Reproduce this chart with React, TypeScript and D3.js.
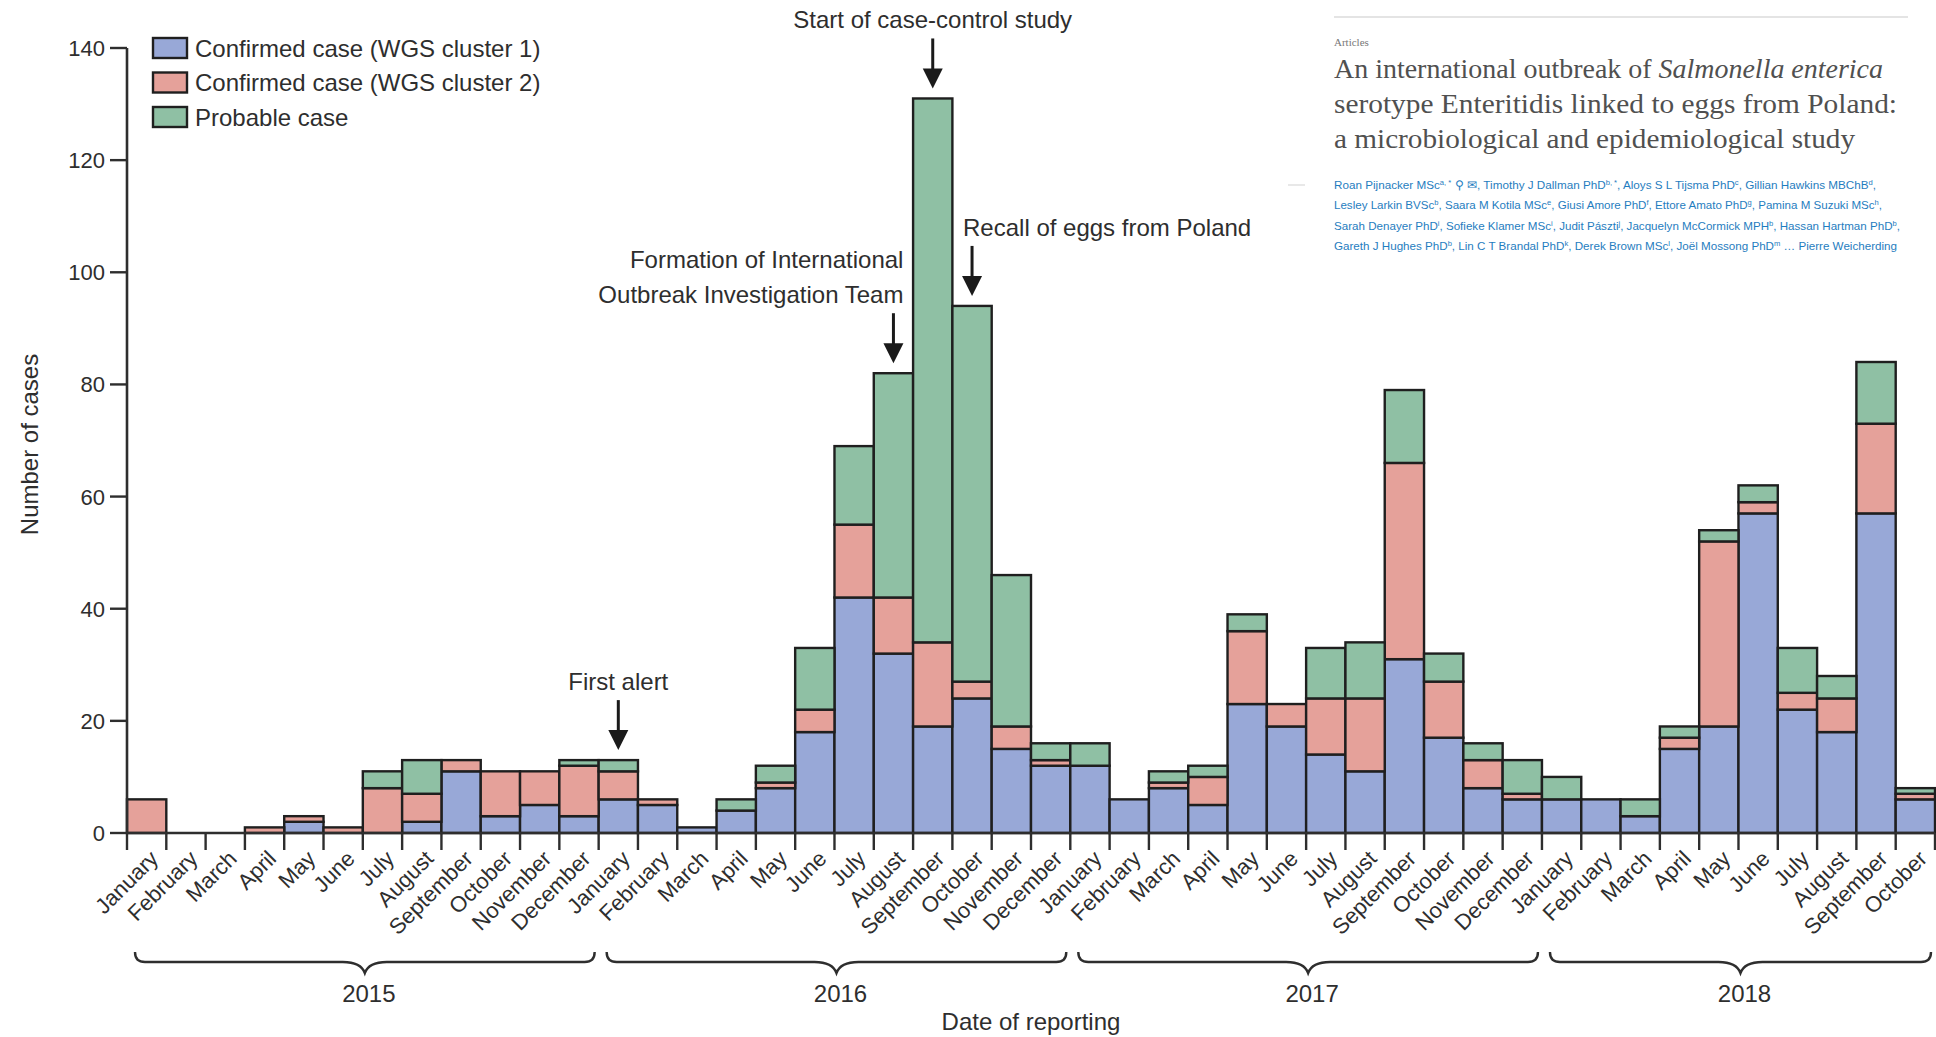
import * as d3 from 'd3';

// Reporting months, January 2015 – October 2018
const MONTHS = [
  'January', 'February', 'March', 'April', 'May', 'June',
  'July', 'August', 'September', 'October', 'November', 'December',
];
const YEARS = ['2015', '2016', '2017', '2018'];
const PERIODS = YEARS.flatMap((yr) => MONTHS.map((m) => `${m} ${yr}`)).slice(0, 46);

// Cases per month
const CLUSTER1 = [
  0, 0, 0, 0, 2, 0, 0, 2, 11, 3, 5, 3,
  6, 5, 1, 4, 8, 18, 42, 32, 19, 24, 15, 12,
  12, 6, 8, 5, 23, 19, 14, 11, 31, 17, 8, 6,
  6, 6, 3, 15, 19, 57, 22, 18, 57, 6,
];
const CLUSTER2 = [
  6, 0, 0, 1, 1, 1, 8, 5, 2, 8, 6, 9,
  5, 1, 0, 0, 1, 4, 13, 10, 15, 3, 4, 1,
  0, 0, 1, 5, 13, 4, 10, 13, 35, 10, 5, 1,
  0, 0, 0, 2, 33, 2, 3, 6, 16, 1,
];
const PROBABLE = [
  0, 0, 0, 0, 0, 0, 3, 6, 0, 0, 0, 1,
  2, 0, 0, 2, 3, 11, 14, 40, 97, 67, 27, 3,
  4, 0, 2, 2, 3, 0, 9, 10, 13, 5, 3, 6,
  4, 0, 3, 2, 2, 3, 8, 4, 11, 1,
];

const SERIES_KEYS = ['c1', 'c2', 'pr'];
const SERIES_LABELS = [
  'Confirmed case (WGS cluster 1)',
  'Confirmed case (WGS cluster 2)',
  'Probable case',
];
const SERIES_COLOURS = ['#98a8d7', '#e5a19a', '#8fc0a4'];

const Y_TICKS = [0, 20, 40, 60, 80, 100, 120, 140];

const ANNOTATIONS = [
  { period: 'January 2016', lines: ['First alert'], align: 'middle' },
  { period: 'August 2016', lines: ['Formation of International', 'Outbreak Investigation Team'], align: 'end' },
  { period: 'September 2016', lines: ['Start of case-control study'], align: 'middle' },
  { period: 'October 2016', lines: ['Recall of eggs from Poland'], align: 'start' },
];

const W = 1936;
const H = 1037;
const INK = '#2e2e2e';
const SANS = "'Liberation Sans', Arial, sans-serif";
const SERIF = "'Liberation Serif', 'Times New Roman', serif";
const LINK = '#1f7dc0';

const rows = PERIODS.map((p, i) => ({ period: p, c1: CLUSTER1[i], c2: CLUSTER2[i], pr: PROBABLE[i] }));

function Brace({ x1, x2, y }: { x1: number; x2: number; y: number }) {
  const mid = (x1 + x2) / 2;
  const d = `M${x1},${y - 10} Q${x1},${y} ${x1 + 10},${y} L${mid - 22},${y}
    Q${mid - 4},${y} ${mid},${y + 11} Q${mid + 4},${y} ${mid + 22},${y}
    L${x2 - 10},${y} Q${x2},${y} ${x2},${y - 10}`;
  return <path d={d} fill="none" stroke={INK} strokeWidth={2.4} />;
}

function Sup({ t }: { t: string }) {
  return (
    <tspan dy={-4} fontSize={7.5}>
      {t}
    </tspan>
  );
}

export default function App() {
  const x = d3.scaleBand<string>().domain(PERIODS).range([127, 1935]).padding(0);
  const y = d3.scaleLinear().domain([0, 140]).range([833, 48]);
  const stacked = d3.stack<any>().keys(SERIES_KEYS)(rows as any);
  const bw = x.bandwidth();
  const totals = rows.map((r) => r.c1 + r.c2 + r.pr);
  const boundaries = [...PERIODS.map((p) => x(p)!), x(PERIODS[PERIODS.length - 1])! + bw];

  return (
    <div style={{ position: 'fixed', left: 0, top: 0, width: W, height: H, background: '#fff' }}>
      <svg width={W} height={H} style={{ display: 'block' }} fontFamily={SANS}>
        {/* stacked bars */}
        {stacked.map((layer, li) => (
          <g key={layer.key} fill={SERIES_COLOURS[li]}>
            {layer.map((d, i) =>
              d[1] - d[0] > 0 ? (
                <rect
                  key={i}
                  x={x(PERIODS[i])}
                  y={y(d[1])}
                  width={bw}
                  height={y(d[0]) - y(d[1])}
                  stroke="#1f1f1f"
                  strokeWidth={2.4}
                />
              ) : null,
            )}
          </g>
        ))}

        {/* y axis */}
        <line x1={127} x2={127} y1={y(140)} y2={y(0)} stroke={INK} strokeWidth={2.6} />
        {Y_TICKS.map((t) => (
          <g key={t} transform={`translate(127,${y(t)})`}>
            <line x1={-17} x2={0} stroke={INK} strokeWidth={2.4} />
            <text x={-22} dy={8} textAnchor="end" fontSize={22} fill={INK}>
              {t}
            </text>
          </g>
        ))}
        <text
          transform={`translate(38,${(y(0) + y(140)) / 2 + 4}) rotate(-90)`}
          textAnchor="middle"
          fontSize={24}
          fill={INK}
        >
          Number of cases
        </text>

        {/* x axis */}
        <line x1={127} x2={1935} y1={y(0)} y2={y(0)} stroke={INK} strokeWidth={2.6} />
        {boundaries.map((bx, i) => (
          <line key={i} x1={bx} x2={bx} y1={y(0)} y2={y(0) + 17} stroke={INK} strokeWidth={2.4} />
        ))}
        {PERIODS.map((p) => (
          <text
            key={p}
            transform={`translate(${x(p)! + bw / 2 + 13},${y(0) + 27}) rotate(-45)`}
            textAnchor="end"
            fontSize={22}
            fill={INK}
          >
            {p.split(' ')[0]}
          </text>
        ))}
        {YEARS.map((yr) => {
          const ps = PERIODS.filter((p) => p.endsWith(yr));
          const x1 = x(ps[0])! + 8;
          const x2 = x(ps[ps.length - 1])! + bw - 4;
          return (
            <g key={yr}>
              <Brace x1={x1} x2={x2} y={962} />
              <text x={(x1 + x2) / 2 + 4} y={1002} textAnchor="middle" fontSize={24} fill={INK}>
                {yr}
              </text>
            </g>
          );
        })}
        <text x={1031} y={1030} textAnchor="middle" fontSize={24} fill={INK}>
          Date of reporting
        </text>

        {/* annotations */}
        {ANNOTATIONS.map((a) => {
          const i = PERIODS.indexOf(a.period);
          const cx = x(a.period)! + bw / 2;
          const tip = y(totals[i]) - 10;
          const top = tip - 50;
          const tx = a.align === 'end' ? cx + 10 : a.align === 'start' ? cx - 9 : cx;
          return (
            <g key={a.period}>
              <line x1={cx} x2={cx} y1={top} y2={tip - 16} stroke="#1a1a1a" strokeWidth={3} />
              <path d={`M${cx - 10},${tip - 20} L${cx + 10},${tip - 20} L${cx},${tip} Z`} fill="#1a1a1a" />
              {a.lines.map((ln, k) => (
                <text
                  key={k}
                  x={tx}
                  y={top - 10 - (a.lines.length - 1 - k) * 35}
                  textAnchor={a.align}
                  fontSize={24}
                  fill={INK}
                >
                  {ln}
                </text>
              ))}
            </g>
          );
        })}

        {/* legend */}
        {SERIES_LABELS.map((lab, i) => (
          <g key={lab} transform={`translate(153,${48 + i * 34.5})`}>
            <rect x={0} y={-10} width={34} height={20} fill={SERIES_COLOURS[i]} stroke="#1f1f1f" strokeWidth={2.4} />
            <text x={42} y={8.5} fontSize={24} fill={INK}>
              {lab}
            </text>
          </g>
        ))}

        {/* article header overlay */}
        <g>
          <rect x={1318} y={0} width={618} height={262} fill="#fff" />
          <line x1={1334} x2={1908} y1={17} y2={17} stroke="#e4e4e4" strokeWidth={2} />
          <text x={1334} y={46} fontFamily={SERIF} fontSize={11} fill="#777">
            Articles
          </text>
          <g fontFamily={SERIF} fontSize={28} fill="#505050">
            <text x={1334} y={78} textLength={549} lengthAdjust="spacingAndGlyphs">
              An international outbreak of <tspan fontStyle="italic">Salmonella enterica</tspan>
            </text>
            <text x={1334} y={113} textLength={563} lengthAdjust="spacingAndGlyphs">
              serotype Enteritidis linked to eggs from Poland:
            </text>
            <text x={1334} y={148} textLength={521} lengthAdjust="spacingAndGlyphs">
              a microbiological and epidemiological study
            </text>
          </g>
          <line x1={1288} x2={1305} y1={185} y2={185} stroke="#e0e0e0" strokeWidth={1.5} />
          <g fontSize={11.5} fill={LINK}>
            <text x={1334} y={189} textLength={542} lengthAdjust="spacingAndGlyphs">
              Roan Pijnacker MSc<Sup t="a, *" />
              <tspan dy={4}> ⚲ ✉, Timothy J Dallman PhD</tspan>
              <Sup t="b, *" />
              <tspan dy={4}>, Aloys S L Tijsma PhD</tspan>
              <Sup t="c" />
              <tspan dy={4}>, Gillian Hawkins MBChB</tspan>
              <Sup t="d" />
              <tspan dy={4}>,</tspan>
            </text>
            <text x={1334} y={209} textLength={548} lengthAdjust="spacingAndGlyphs">
              Lesley Larkin BVSc<Sup t="b" />
              <tspan dy={4}>, Saara M Kotila MSc</tspan>
              <Sup t="e" />
              <tspan dy={4}>, Giusi Amore PhD</tspan>
              <Sup t="f" />
              <tspan dy={4}>, Ettore Amato PhD</tspan>
              <Sup t="g" />
              <tspan dy={4}>, Pamina M Suzuki MSc</tspan>
              <Sup t="h" />
              <tspan dy={4}>,</tspan>
            </text>
            <text x={1334} y={230} textLength={566} lengthAdjust="spacingAndGlyphs">
              Sarah Denayer PhD<Sup t="i" />
              <tspan dy={4}>, Sofieke Klamer MSc</tspan>
              <Sup t="i" />
              <tspan dy={4}>, Judit Pászti</tspan>
              <Sup t="j" />
              <tspan dy={4}>, Jacquelyn McCormick MPH</tspan>
              <Sup t="b" />
              <tspan dy={4}>, Hassan Hartman PhD</tspan>
              <Sup t="b" />
              <tspan dy={4}>,</tspan>
            </text>
            <text x={1334} y={250} textLength={563} lengthAdjust="spacingAndGlyphs">
              Gareth J Hughes PhD<Sup t="b" />
              <tspan dy={4}>, Lin C T Brandal PhD</tspan>
              <Sup t="k" />
              <tspan dy={4}>, Derek Brown MSc</tspan>
              <Sup t="l" />
              <tspan dy={4}>, Joël Mossong PhD</tspan>
              <Sup t="m" />
              <tspan dy={4}> … Pierre Weicherding</tspan>
            </text>
          </g>
        </g>
      </svg>
    </div>
  );
}
